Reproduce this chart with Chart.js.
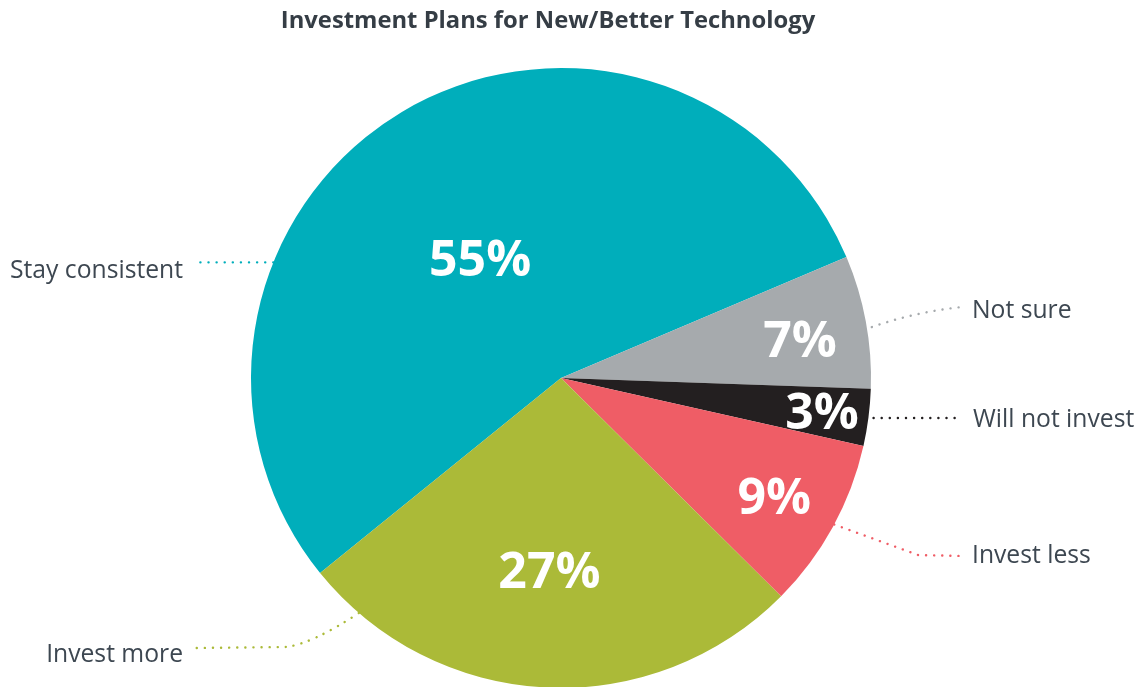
<!DOCTYPE html>
<html>
<head>
<meta charset="utf-8">
<script src="https://cdn.jsdelivr.net/npm/chart.js@4.4.1/dist/chart.umd.min.js"></script>
<style>
  html, body { margin: 0; padding: 0; background: #ffffff; overflow: hidden; }
  #wrap { position: relative; width: 1143px; height: 689px; }
</style>
</head>
<body>
<div id="wrap"><canvas id="c"></canvas></div>
<script>
// ---- data ----
const categories = ["Stay consistent", "Not sure", "Will not invest", "Invest less", "Invest more"];
const values = [55, 7, 3, 9, 27];
const sliceColors = ["#00AEBB", "#A6AAAD", "#231F20", "#EF5D66", "#ABBA38"];
const chartTitle = "Investment Plans for New/Better Technology";

// label styling (radius fraction and angle tweak for the % text)
const pctRadius = [0.46, 0.78, 0.85, 0.79, 0.63];
const pctAngleShift = [-3.6, 1.8, 0.4, 0.7, 0.5];

const textColor = "#3D4751";

const overlay = {
  id: 'overlay',
  afterDatasetsDraw(chart) {
    const ctx = chart.ctx;
    const meta = chart.getDatasetMeta(0);
    const arcs = meta.data;
    const cx = arcs[0].x, cy = arcs[0].y, R = arcs[0].outerRadius;
    const pt = (deg, rr) => [cx + rr * Math.cos(deg * Math.PI / 180), cy + rr * Math.sin(deg * Math.PI / 180)];

    // percentage labels
    ctx.save();
    ctx.fillStyle = '#ffffff';
    ctx.font = '700 50px "Open Sans"';
    ctx.textAlign = 'center';
    ctx.textBaseline = 'middle';
    arcs.forEach((a, i) => {
      const mid = (a.startAngle + a.endAngle) / 2 * 180 / Math.PI + pctAngleShift[i];
      const [x, y] = pt(mid, R * pctRadius[i]);
      ctx.fillText(values[i] + '%', x, y + 1);
    });
    ctx.restore();

    // title
    ctx.save();
    ctx.fillStyle = '#353D45';
    ctx.font = '700 23.8px "Open Sans"';
    ctx.textAlign = 'center';
    ctx.textBaseline = 'middle';
    ctx.fillText(chartTitle, 548, 21);
    ctx.restore();

    // callouts
    const dotted = (color, drawPath) => {
      ctx.save();
      ctx.strokeStyle = color;
      ctx.lineWidth = 2.4;
      ctx.lineCap = 'round';
      ctx.setLineDash([0.1, 8]);
      ctx.beginPath();
      drawPath();
      ctx.stroke();
      ctx.restore();
    };
    const label = (text, x, y, align) => {
      ctx.save();
      ctx.fillStyle = textColor;
      ctx.font = '400 24.7px "Open Sans"';
      ctx.textAlign = align;
      ctx.textBaseline = 'alphabetic';
      ctx.fillText(text, x, y);
      ctx.restore();
    };

    // Stay consistent
    let p = pt(201.9, R);
    dotted(sliceColors[0], () => { ctx.moveTo(p[0], p[1]); ctx.lineTo(196, p[1]); });
    label(categories[0], 183, 278, 'right');

    // Not sure
    p = pt(-9.4, R + 2);
    dotted(sliceColors[1], () => { ctx.moveTo(p[0] + 3, p[1]); ctx.quadraticCurveTo(915, 312, 962, 307); });
    label(categories[1], 972, 318, 'left');

    // Will not invest
    p = pt(7.2, R);
    dotted(sliceColors[2], () => { ctx.moveTo(p[0] + 5, 418); ctx.lineTo(962, 418); });
    label(categories[2], 973, 427, 'left');

    // Invest less
    p = pt(28.2, R);
    dotted(sliceColors[3], () => { ctx.moveTo(p[0], p[1]); ctx.lineTo(918, 555); ctx.lineTo(962, 556); });
    label(categories[3], 972, 563, 'left');

    // Invest more
    p = pt(130.7, R);
    dotted(sliceColors[4], () => { ctx.moveTo(p[0], p[1]); ctx.quadraticCurveTo(310, 645, 285, 647); ctx.lineTo(195, 648); });
    label(categories[4], 183, 662, 'right');
  }
};

new Chart(document.getElementById('c'), {
  type: 'pie',
  data: {
    labels: categories,
    datasets: [{
      data: values,
      backgroundColor: sliceColors,
      borderWidth: 0
    }]
  },
  options: {
    responsive: true,
    maintainAspectRatio: false,
    animation: false,
    rotation: 231.0,
    layout: { padding: { top: 68, bottom: 1, left: 251, right: 272 } },
    plugins: {
      legend: { display: false },
      title: { display: false },
      tooltip: { enabled: false }
    }
  },
  plugins: [overlay]
});
</script>
</body>
</html>
